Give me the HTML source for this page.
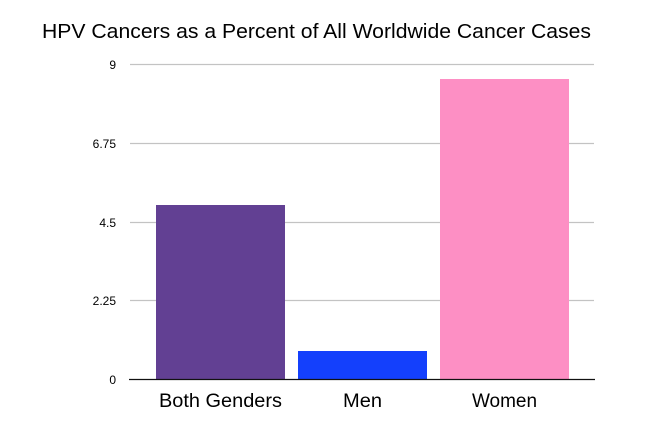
<!DOCTYPE html>
<html><head><meta charset="utf-8"><style>
html,body{margin:0;padding:0;background:#fff;}
svg{display:block;}
text{font-family:"Liberation Sans",Helvetica,Arial,sans-serif;fill:#000;}
</style></head><body>
<svg width="656" height="427" viewBox="0 0 656 427" xmlns="http://www.w3.org/2000/svg">
<rect width="656" height="427" fill="#fff"/>
<text x="42" y="38" font-size="20" textLength="549" lengthAdjust="spacingAndGlyphs">HPV Cancers as a Percent of All Worldwide Cancer Cases</text>
<g stroke="#c3c3c3" stroke-width="1.2">
<line x1="130" y1="64.5" x2="594" y2="64.5"/>
<line x1="130" y1="143.5" x2="594" y2="143.5"/>
<line x1="130" y1="222.5" x2="594" y2="222.5"/>
<line x1="130" y1="300.5" x2="594" y2="300.5"/>
</g>
<g font-size="12" text-anchor="end" fill="#222">
<text x="116" y="69">9</text>
<text x="116" y="148">6.75</text>
<text x="116" y="227">4.5</text>
<text x="116" y="305">2.25</text>
<text x="116" y="384">0</text>
</g>
<rect x="156" y="205" width="129" height="174.5" fill="#624093"/>
<rect x="298" y="351" width="129" height="28.5" fill="#1440fc"/>
<rect x="440" y="79" width="129" height="300.5" fill="#fd8fc4"/>
<line x1="129" y1="379.5" x2="595" y2="379.5" stroke="#111" stroke-width="1.2"/>
<g font-size="19" text-anchor="middle">
<text x="220.5" y="407" textLength="123" lengthAdjust="spacingAndGlyphs">Both Genders</text>
<text x="362.5" y="407" textLength="39" lengthAdjust="spacingAndGlyphs">Men</text>
<text x="504.5" y="407">Women</text>
</g>
</svg>
</body></html>
